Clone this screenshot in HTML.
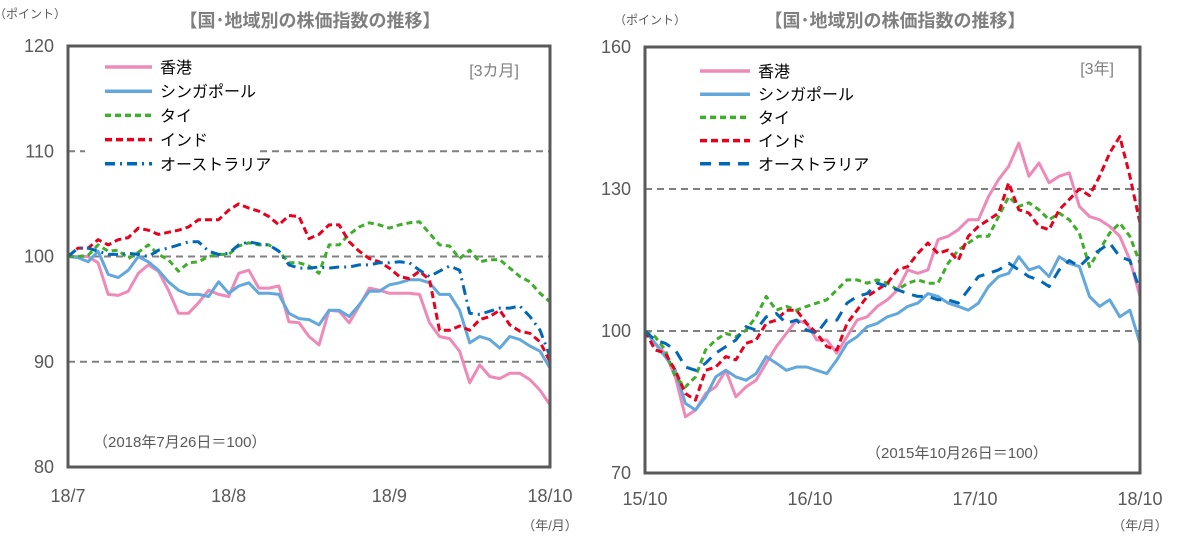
<!DOCTYPE html>
<html><head><meta charset="utf-8">
<style>
body{margin:0;background:#fff;width:1178px;height:542px;overflow:hidden;}
svg{display:block;font-family:"Liberation Sans","Noto Sans CJK JP",sans-serif;}
</style></head>
<body>
<svg id="c" width="1178" height="542"></svg>
<script>
// ---- Left chart data (3 months) ----
const leftTicksX = ["18/7","18/8","18/9","18/10"];
const leftTicksY = [80,90,100,110,120];
const leftHK = [100,100,100,99.4,96.4,96.3,96.7,98.4,99.2,98.6,96.8,94.6,94.6,95.6,96.8,96.4,96.2,98.4,98.7,97,97,97.2,93.8,93.7,92.4,91.6,94.9,94.8,93.7,95.3,97,96.8,96.5,96.5,96.5,96.4,93.7,92.4,92.2,91,88,89.7,88.6,88.4,88.9,88.9,88.3,87.3,85.9];
const leftSG = [100,99.9,99.5,100.5,98.3,98,98.7,100,99.5,98.7,97.6,96.8,96.4,96.4,96.2,97.6,96.5,97.2,97.5,96.5,96.5,96.4,94.6,94.1,94,93.5,94.9,94.9,94.3,95.4,96.7,96.7,97.3,97.5,97.8,97.8,97.5,96.4,96.4,94.9,91.8,92.4,92.1,91.3,92.4,92.1,91.5,91,89.4];
const leftTH = [100,100,100.1,101.1,100.5,100.6,99.8,100.4,101.1,100.2,99.7,98.6,99.4,99.5,100,100.2,100.2,101,101.3,101.1,101.1,100.5,99.4,99.4,99.1,98.4,101.1,101.1,102.1,102.8,103.2,103,102.7,103,103.2,103.3,102.2,101.1,101,99.8,100.6,99.5,99.7,99.7,98.9,98.1,97.6,96.5,95.7];
const leftIN = [100,100.8,100.8,101.6,101.1,101.6,101.8,102.7,102.5,102.1,102.3,102.5,102.8,103.5,103.5,103.5,104.4,105,104.6,104.3,103.8,103,103.9,103.8,101.7,102.1,103,103,101.4,100.5,99.8,99.5,98.9,98.1,97.9,98.6,97.8,93,93,93.4,93,94,94.3,94.9,93.5,92.9,92.7,91.9,90];
const leftAU = [100,100.8,100.8,100.5,100.2,100.2,100.3,100.2,100,100.6,100.8,101.1,101.4,101.4,100.5,100.2,100.3,101.1,101.4,101.2,101.1,100.5,99.2,98.9,98.9,99,98.9,99,99,99.2,99.2,99.4,99.4,99.5,99.4,98.7,98.1,98.6,99.1,98.7,94.6,94.5,94.8,95.1,95.1,95.3,94.3,93,90.5];
// ---- Right chart data (3 years) ----
const rightTicksX = ["15/10","16/10","17/10","18/10"];
const rightTicksY = [70,100,130,160];
const rightHK = [100,97.4,95.3,90.3,81.9,83.3,86.8,88.2,91.7,86.1,88.2,89.6,93.2,96.7,99.5,102.3,101.6,98.1,98.1,95.3,98.8,102.3,103,105.2,106.6,108.7,112.9,112.2,112.9,119.3,120,121.4,123.5,123.5,128.4,132,134.8,139.7,132.7,135.5,131.3,132.7,133.4,126.3,124.2,123.5,122.1,120,115,107.3];
const rightSG = [100,97.4,94.6,91.7,84.7,83.3,86.1,90.3,91.7,90.3,89.6,91,94.6,93.2,91.7,92.4,92.4,91.7,91,93.9,97.4,98.8,100.9,101.6,103,103.7,105.2,105.9,107.9,107.3,105.9,105.2,104.4,105.9,109.4,111.5,112.2,115.7,112.9,113.6,111.5,115.7,114.3,113.6,107.3,105.2,106.6,103,104.4,97.4];
const rightTH = [100,98.8,96,90.3,88.2,90.3,96,98.1,99.5,98.8,100.2,103,107.3,104.4,105.2,104.4,105.2,105.9,106.6,108.7,110.8,110.8,110.1,110.8,110.1,108.7,110.1,110.8,110.1,110.1,114.3,117.1,118.6,120,120,124.2,128.4,126.3,127.1,125.6,123.5,124.9,123.5,120.7,113.6,117.1,120.7,122.8,120,114.3];
const rightIN = [100,96,95.3,91.7,86.8,85.4,91.7,92.4,94.6,93.9,97.4,98.1,101.6,102.3,104.4,104.4,101.6,99.5,96.7,96,101.6,104.4,107.3,108.7,110.1,112.9,113.6,116.4,118.6,116.4,117.1,114.9,120,122.1,123.5,124.9,131.3,125.6,124.9,122.1,121.4,125.6,127.8,130,128.6,132.7,137.6,141.1,132.7,122.8];
const rightAU = [100,98.1,97.4,96,92.4,91.7,93.2,95.3,96.7,98.1,100.9,100.2,103,103.7,101.6,102.3,100.2,99.5,102.3,102.3,105.9,107.3,107.9,110.1,109.4,108.7,107.9,107.3,107.3,106.6,106.6,105.9,108.7,111.5,112.2,112.9,114.3,112.9,111.5,110.8,109.4,112.9,114.9,113.6,115.7,117.1,118.6,115.7,114.9,108.5];
const names = ["香港","シンガポール","タイ","インド","オーストラリア"];

const NS="http://www.w3.org/2000/svg";
const svg=document.getElementById('c');
function mk(tag,attrs,parent){const e=document.createElementNS(NS,tag);for(const k in attrs)e.setAttribute(k,attrs[k]);(parent||svg).appendChild(e);return e;}
function txt(s,x,y,size,fill,anchor,weight,parent){const t=mk('text',{x:x,y:y,'font-size':size,fill:fill,'text-anchor':anchor||'start','font-weight':weight||'normal'},parent);t.textContent=s;return t;}

const keys=['hk','sg','th','in','au'];

function chart(cfg){
 const styles=[
  {c:'#ef8ab8',w:3,d:''},
  {c:'#62a8dc',w:3,d:''},
  {c:'#3fae2a',w:3,d:'6 4'},
  {c:'#e8001c',w:3,d:'7 4'},
  {c:'#0068b7',w:3,d:cfg.auDash}
 ];
 const g=mk('g',{});
 
 
 const X=i=>cfg.x0+(cfg.x1-cfg.x0)*i/(cfg.n-1);
 const Y=v=>cfg.y0+(v-cfg.vmin)*(cfg.y1-cfg.y0)/(cfg.vmax-cfg.vmin);
 cfg.grid.forEach(v=>{const l=mk('line',{x1:cfg.x0,x2:cfg.x1,y1:Y(v),y2:Y(v),stroke:'#808080','stroke-width':2,'stroke-dasharray':'7 5'},g);
  
  });
 const lb=mk('rect',{x:cfg.legX-20,y:cfg.legY-14,width:cfg.legW,height:cfg.legDy*5+4,fill:'#fff'},g);
 
 
 cfg.series.forEach((arr,si)=>{
  const st=styles[si];
  const p=mk('polyline',{points:arr.map((v,i)=>X(i).toFixed(1)+','+Y(v).toFixed(1)).join(' '),fill:'none',stroke:st.c,'stroke-width':st.w,'stroke-dasharray':st.d,'stroke-linejoin':'round'},g);
  
  
 });
 const fr=mk('rect',{x:cfg.x0,y:cfg.y1,width:cfg.x1-cfg.x0,height:cfg.y0-cfg.y1,fill:'none',stroke:'#595959','stroke-width':3},g);
 
 
 cfg.yt.forEach(v=>{const t=txt(String(v),cfg.x0-14,Y(v)+6,18,'#595959','end','normal',g);
  
  });
 cfg.xt.forEach((s,i)=>{const t=txt(s,cfg.x0+(cfg.x1-cfg.x0)*i/(cfg.xt.length-1),cfg.xy,18,'#595959','middle','normal',g);
  
  });
 names.forEach((nm,si)=>{const st=styles[si];const yy=cfg.legY+si*cfg.legDy;
  const e=mk('g',{},g);
  
  
  mk('line',{x1:cfg.legX,x2:cfg.legX+cfg.legL,y1:yy,y2:yy,stroke:st.c,'stroke-width':3.5,'stroke-dasharray':st.d},e);
  txt(nm,cfg.legX+cfg.legL+8,yy+6,16,'#000','start','normal',e);
 });
 const t1=txt(cfg.title,cfg.tx,27,18,'#7f7f7f','middle','bold',g);
 
 
 const u=txt('（ポイント）',cfg.ux,cfg.uy,12,'#595959','middle','normal',g);
 
 
 const p=txt(cfg.period,cfg.px,cfg.py,16,'#7f7f7f','end','normal',g);
 
 
 const b=txt(cfg.base,cfg.bx,cfg.by,15,'#595959','start','normal',g);
 
 
 const xu=txt('（年/月）',cfg.x1,530,13,'#595959','middle','normal',g);
 
 
}
chart({id:'left-chart',x0:68,x1:550,y0:467,y1:46,vmin:80,vmax:120,n:leftHK.length,
 grid:[90,100,110],yt:leftTicksY,xt:leftTicksX,xy:502,auDash:'10 5 2 5',
 series:[leftHK,leftSG,leftTH,leftIN,leftAU],
 legX:105,legY:67,legDy:24.2,legL:47,legW:175,
 title:'【国･地域別の株価指数の推移】',tx:310,ux:30,uy:18,
 period:'[3カ月]',px:519,py:76,base:'（2018年7月26日＝100）',bx:93,by:447});
chart({id:'right-chart',x0:645,x1:1140,y0:473,y1:47,vmin:70,vmax:160,n:rightHK.length,
 grid:[100,130],yt:rightTicksY,xt:rightTicksX,xy:505,auDash:'11 8',
 series:[rightHK,rightSG,rightTH,rightIN,rightAU],
 legX:700,legY:71,legDy:23.2,legL:50,legW:180,
 title:'【国･地域別の株価指数の推移】',tx:895,ux:650,uy:24,
 period:'[3年]',px:1114,py:74,base:'（2015年10月26日＝100）',bx:866,by:458});
</script>
</body></html>
